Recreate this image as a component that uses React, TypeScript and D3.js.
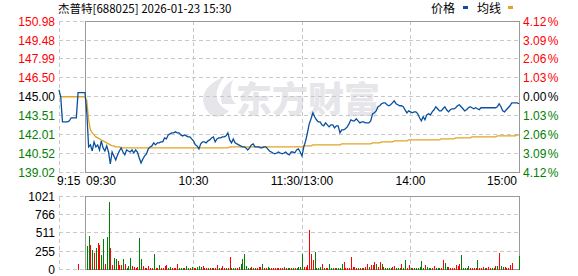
import React from 'react';
import * as d3 from 'd3';

const titleText = '杰普特[688025] 2026-01-23 15:30';
const prevClose = 145.0;
const priceTicks = [150.98, 149.48, 147.99, 146.5, 145.0, 143.51, 142.01, 140.52, 139.02];
const pctTicks = ['4.12', '3.09', '2.06', '1.03', '0.00', '1.03', '2.06', '3.09', '4.12'];
const volTicks = [1021, 766, 511, 255, 0];
const timeLabels = ['9:15', '09:30', '10:30', '11:30/13:00', '14:00', '15:00'];
const timeLabelMinutes = [-15, 0, 60, 120, 180, 240];
const gridMinutes = [60, 120, 180];

// pre-market call auction 9:15 - 9:29
const prePrice = [145.55, 145.0, 143.02, 143.02, 143.02, 143.02, 143.1, 143.34, 143.34, 143.34, 143.34, 145.32, 145.32, 145.32, 145.32];
const preAvg: (number | null)[] = [null, 145.0, 145.0, 145.0, 145.0, 145.0, 145.0, 145.0, 145.0, 145.0, 145.0, 145.0, 145.0, 145.0, 145.0];
const preVolume = [0, 0, 0, 0, 0, 0, 0, 0, 0, 0, 0, 83, 0, 0, 0];
const preUp = [0, 0, 0, 0, 0, 0, 0, 0, 0, 0, 0, 1, 0, 0, 0];

// 09:30 - 15:00, one value per minute (241)
const price = [
  145.32, 143.73, 141.04, 141.2, 140.72, 141.44, 141.04, 141.2, 140.8, 141.52,
  140.96, 140.72, 141.12, 140.64, 139.69, 140.64, 140.33, 140.01, 140.41, 140.72,
  140.96, 140.64, 140.41, 140.8, 140.72, 140.64, 140.8, 140.56, 140.8, 140.64,
  140.17, 139.77, 140.09, 140.33, 140.49, 140.88, 141.04, 141.12, 141.36, 141.2,
  141.36, 141.36, 141.44, 141.44, 141.75, 141.67, 141.99, 142.07, 142.15, 142.15,
  142.23, 142.15, 142.15, 141.99, 141.91, 141.99, 141.91, 141.83, 141.83, 141.67,
  141.52, 141.2, 141.12, 140.88, 141.28, 141.44, 141.44, 141.36, 141.52, 141.59,
  141.75, 141.83, 141.44, 141.67, 141.75, 141.75, 141.83, 141.83, 141.91, 142.15,
  141.59, 141.36, 141.67, 141.36, 141.28, 141.2, 141.12, 141.04, 141.04, 140.96,
  140.8, 140.96, 141.2, 141.28, 141.04, 141.04, 141.04, 140.96, 140.96, 141.04,
  141.04, 140.88, 140.72, 140.64, 140.56, 140.49, 140.56, 140.64, 140.56, 140.49,
  140.56, 140.64, 140.49, 140.41, 140.64, 140.64, 140.56, 140.8, 140.88, 140.64,
  140.33, 141.04, 141.52, 142.15, 142.86, 143.26, 143.73, 143.42, 143.18, 143.02,
  143.02, 142.78, 142.7, 142.94, 142.78, 142.62, 142.78, 142.78, 142.54, 142.7,
  142.7, 142.15, 142.39, 142.39, 142.47, 142.62, 142.86, 143.18, 143.1, 143.1,
  143.26, 143.1, 142.94, 143.02, 143.02, 142.94, 142.94, 142.94, 143.1, 143.65,
  143.73, 143.89, 144.21, 144.29, 144.45, 144.52, 144.52, 144.37, 144.29, 144.37,
  144.52, 144.68, 144.45, 144.37, 144.29, 144.29, 144.21, 143.97, 143.73, 143.89,
  143.81, 143.73, 143.81, 143.81, 143.65, 143.34, 143.1, 143.42, 143.18, 143.57,
  143.65, 143.57, 143.81, 143.97, 144.21, 144.05, 143.89, 143.89, 144.05, 144.21,
  143.97, 143.81, 143.97, 144.05, 144.05, 144.13, 144.29, 144.37, 144.21, 144.05,
  143.89, 143.97, 144.13, 144.21, 144.13, 144.05, 144.13, 144.05, 143.97, 144.13,
  144.13, 144.13, 144.13, 144.13, 144.13, 144.13, 144.13, 144.13, 144.21, 144.45,
  144.21, 143.89, 143.81, 143.97, 144.13, 144.29, 144.52, 144.52, 144.52, 144.52,
  144.45,
];

const avgPrice = [
  144.97, 144.68, 143.18, 142.39, 142.15, 141.99, 141.83, 141.75, 141.67, 141.59,
  141.52, 141.44, 141.36, 141.28, 141.2, 141.12, 141.12, 141.04, 141.04, 141.04,
  140.96, 140.96, 140.96, 140.96, 140.96, 140.96, 140.96, 140.96, 140.96, 140.96,
  140.96, 140.96, 140.96, 140.96, 140.96, 140.96, 140.96, 140.96, 140.96, 140.96,
  140.96, 140.96, 140.96, 140.96, 140.96, 140.96, 140.96, 140.96, 140.96, 140.96,
  140.96, 140.96, 140.96, 140.96, 140.96, 140.96, 140.96, 140.96, 140.96, 140.96,
  140.96, 140.96, 140.96, 140.96, 140.96, 140.96, 140.96, 140.96, 140.96, 140.96,
  140.96, 140.96, 140.96, 140.96, 140.96, 140.96, 140.96, 140.96, 140.96, 140.96,
  141.04, 141.04, 141.04, 141.04, 141.04, 141.04, 141.04, 141.04, 141.04, 141.04,
  141.04, 141.04, 141.04, 141.04, 141.04, 141.04, 141.04, 141.04, 141.04, 141.04,
  141.04, 141.04, 141.04, 141.04, 141.04, 141.04, 141.04, 141.04, 141.04, 141.04,
  141.04, 141.04, 141.04, 141.04, 141.04, 141.04, 141.04, 141.04, 141.04, 141.04,
  141.04, 141.12, 141.12, 141.12, 141.12, 141.12, 141.2, 141.2, 141.2, 141.2,
  141.2, 141.2, 141.2, 141.2, 141.2, 141.2, 141.2, 141.2, 141.2, 141.2,
  141.2, 141.2, 141.28, 141.28, 141.28, 141.28, 141.28, 141.28, 141.28, 141.28,
  141.28, 141.28, 141.28, 141.28, 141.28, 141.28, 141.28, 141.28, 141.28, 141.36,
  141.36, 141.36, 141.36, 141.36, 141.44, 141.44, 141.44, 141.44, 141.44, 141.44,
  141.44, 141.52, 141.52, 141.52, 141.52, 141.52, 141.52, 141.52, 141.52, 141.59,
  141.59, 141.59, 141.59, 141.59, 141.59, 141.59, 141.59, 141.59, 141.59, 141.59,
  141.59, 141.59, 141.59, 141.59, 141.59, 141.59, 141.59, 141.67, 141.67, 141.67,
  141.67, 141.67, 141.67, 141.67, 141.67, 141.75, 141.75, 141.75, 141.75, 141.75,
  141.75, 141.75, 141.75, 141.75, 141.83, 141.83, 141.83, 141.83, 141.83, 141.83,
  141.83, 141.83, 141.83, 141.83, 141.83, 141.83, 141.83, 141.83, 141.91, 141.91,
  141.91, 141.91, 141.91, 141.91, 141.91, 141.91, 141.91, 141.91, 141.91, 141.99,
  141.99,
];

const volume = [
  0, 322, 469, 345, 276, 230, 299, 368, 345, 207,
  428, 83, 451, 938, 299, 69, 161, 147, 115, 69,
  69, 147, 83, 18, 46, 161, 46, 37, 18, 32,
  437, 152, 55, 14, 23, 55, 18, 18, 221, 14,
  18, 64, 14, 18, 46, 69, 23, 28, 18, 18,
  18, 83, 18, 14, 14, 18, 55, 14, 18, 41,
  18, 18, 37, 55, 37, 55, 14, 14, 14, 14,
  14, 14, 14, 69, 14, 14, 55, 14, 14, 14,
  179, 14, 14, 14, 14, 37, 83, 152, 221, 55,
  14, 14, 41, 14, 14, 14, 28, 28, 83, 14,
  14, 37, 23, 14, 14, 14, 14, 14, 18, 14,
  37, 14, 14, 14, 14, 14, 14, 14, 28, 28,
  221, 28, 37, 64, 552, 221, 138, 248, 18, 14,
  28, 83, 14, 14, 14, 83, 14, 14, 14, 23,
  23, 14, 83, 110, 14, 14, 14, 179, 28, 28,
  14, 14, 14, 14, 14, 28, 83, 41, 69, 64,
  110, 83, 41, 110, 83, 41, 14, 14, 14, 14,
  28, 55, 14, 14, 14, 83, 14, 138, 14, 69,
  14, 14, 14, 14, 14, 41, 124, 14, 69, 28,
  14, 14, 14, 55, 14, 14, 14, 14, 138, 97,
  41, 28, 14, 14, 14, 69, 55, 83, 207, 14,
  14, 14, 55, 14, 14, 14, 14, 138, 14, 14,
  28, 14, 14, 28, 14, 14, 14, 55, 55, 235,
  55, 28, 28, 14, 14, 69, 97, 0, 0, 0,
  193,
];

const volumeUp = [
  1, 0, 0, 1, 0, 1, 0, 1, 1, 0,
  0, 1, 0, 0, 1, 1, 0, 0, 1, 1,
  1, 0, 1, 0, 0, 0, 1, 1, 1, 1,
  0, 0, 1, 1, 1, 1, 1, 1, 0, 1,
  1, 0, 1, 1, 1, 1, 0, 0, 1, 1,
  1, 1, 0, 0, 0, 1, 0, 0, 1, 0,
  1, 1, 0, 0, 0, 1, 1, 1, 0, 1,
  1, 0, 1, 1, 0, 1, 1, 1, 0, 1,
  1, 0, 0, 0, 1, 1, 0, 0, 0, 0,
  0, 0, 1, 1, 0, 1, 1, 1, 0, 1,
  1, 0, 0, 1, 1, 1, 1, 1, 1, 1,
  0, 1, 0, 0, 1, 0, 1, 0, 0, 0,
  0, 1, 1, 1, 1, 1, 1, 0, 0, 0,
  0, 1, 0, 1, 1, 0, 0, 0, 1, 0,
  0, 0, 0, 1, 1, 1, 1, 1, 1, 1,
  1, 0, 1, 1, 0, 1, 1, 0, 1, 1,
  1, 0, 1, 1, 0, 1, 0, 0, 0, 0,
  1, 1, 0, 0, 0, 1, 0, 0, 1, 1,
  0, 1, 0, 0, 0, 0, 0, 0, 1, 0,
  0, 0, 1, 1, 0, 0, 0, 1, 1, 0,
  0, 1, 1, 1, 1, 1, 1, 1, 0, 0,
  0, 0, 0, 1, 1, 1, 1, 0, 1, 1,
  1, 0, 1, 1, 1, 0, 0, 1, 0, 1,
  0, 0, 1, 1, 1, 1, 1, 0, 0, 0,
  0,
];

const RED = '#ff0000';
const GREEN = '#008000';
const BLUE = '#0a4f9e';
const ORANGE = '#e0a526';
const GRID = '#c8c8c8';
const FRAME = '#999999';
const FONT = '"Liberation Sans", Arial, sans-serif';
const CJK = '"Noto Sans CJK SC", "Liberation Sans", sans-serif';

export default function App() {
  const W = 578;
  const H = 276;
  const L = 85;
  const R = 519;
  const PL = 59;
  const pTop = 21;
  const pBot = 172.5;
  const vTop = 196.5;
  const vBot = 269.5;

  const x = d3.scaleLinear().domain([0, 240]).range([L, R]);
  const xp = d3.scaleLinear().domain([-15, 0]).range([PL, L]);
  const y = d3.scaleLinear().domain([139.02, 150.98]).range([pBot, pTop]);
  const yv = d3.scaleLinear().domain([0, 1021]).range([vBot, vTop]);

  const xTime = (m: number) => (m < 0 ? xp(m) : x(m));

  const line = d3
    .line<[number, number | null]>()
    .defined((d) => d[1] != null)
    .x((d) => d[0])
    .y((d) => y(d[1] as number));

  const pricePts: [number, number | null][] = [
    ...prePrice.map((p, k) => [xp(k - 15), p] as [number, number | null]),
    ...price.map((p, i) => [x(i), p] as [number, number | null]),
  ];
  const avgPts: [number, number | null][] = [
    ...preAvg.map((p, k) => [xp(k - 15), p] as [number, number | null]),
    ...avgPrice.map((p, i) => [x(i), p] as [number, number | null]),
  ];

  const bars = [
    ...preVolume.map((v, k) => ({ xx: xp(k - 15), v, up: preUp[k] })),
    ...volume.map((v, i) => ({ xx: x(i), v, up: volumeUp[i] })),
  ].filter((b) => b.v > 0);

  const labelColor = (p: number) => (p > prevClose + 1e-6 ? RED : p < prevClose - 1e-6 ? GREEN : '#000');
  const anchors = ['start', 'start', 'middle', 'middle', 'middle', 'end'];
  const labelDx = [-2, 1, 0, 0, 0, -2];

  return (
    <svg
      width={W}
      height={H}
      style={{ position: 'absolute', left: 0, top: 0, background: '#fff' }}
      xmlns="http://www.w3.org/2000/svg"
    >
      {/* watermark */}
      <g fill="#e6e6ea">
        <path d="M212 116 C198 104 200 86 224 77 C213 92 214 104 229 111 C224 116 217 118 212 116 Z" />
        <path d="M222 104 C219 94 224 85 233 80 C229 90 230 98 236 104 Z" />
        <text x={236} y={113} fontSize={36} fontWeight={900} fontFamily={CJK}>
          东方财富
        </text>
      </g>

      {/* price grid */}
      <g stroke={GRID} strokeDasharray="4,3" strokeWidth={1} shapeRendering="crispEdges">
        {priceTicks.map((t, i) => (
          <line key={'pg' + i} x1={PL} x2={R} y1={y(t)} y2={y(t)} />
        ))}
        <line x1={PL} x2={PL} y1={pTop} y2={pBot} />
        {gridMinutes.map((m) => (
          <line key={'vg' + m} x1={x(m)} x2={x(m)} y1={pTop} y2={pBot} />
        ))}
        {volTicks.map((t, i) => (
          <line key={'vvg' + i} x1={PL} x2={R} y1={yv(t)} y2={yv(t)} />
        ))}
        <line x1={PL} x2={PL} y1={vTop} y2={vBot} />
        {gridMinutes.map((m) => (
          <line key={'vvv' + m} x1={x(m)} x2={x(m)} y1={vTop} y2={vBot} />
        ))}
      </g>

      {/* frames */}
      <g fill="none" stroke={FRAME} strokeWidth={1} shapeRendering="crispEdges">
        <rect x={L} y={pTop} width={R - L} height={pBot - pTop} />
        <rect x={L} y={vTop} width={R - L} height={vBot - vTop} />
      </g>

      {/* volume bars */}
      <g shapeRendering="crispEdges">
        {bars.map((b, i) => (
          <rect
            key={'b' + i}
            x={Math.round(b.xx)}
            y={yv(b.v)}
            width={1}
            height={vBot - yv(b.v)}
            fill={b.up ? RED : GREEN}
          />
        ))}
      </g>

      {/* lines */}
      <path d={line(avgPts) || ''} fill="none" stroke={ORANGE} strokeWidth={1.3} />
      <path d={line(pricePts) || ''} fill="none" stroke={BLUE} strokeWidth={1.3} />

      {/* left price labels */}
      <g fontFamily={FONT} fontSize={12} textAnchor="end">
        {priceTicks.map((t, i) => (
          <text key={'pl' + i} x={55} y={y(t) + 4.5} fill={labelColor(t)}>
            {t.toFixed(2)}
          </text>
        ))}
      </g>

      {/* right percent labels */}
      <g fontFamily={FONT} fontSize={12} textAnchor="start">
        {pctTicks.map((t, i) => (
          <text key={'pr' + i} x={523} y={y(priceTicks[i]) + 4.5} fill={labelColor(priceTicks[i])}>
            {t}
            <tspan dx={1.5}>%</tspan>
          </text>
        ))}
      </g>

      {/* volume labels */}
      <g fontFamily={FONT} fontSize={12} textAnchor="end" fill="#000">
        {volTicks.map((t, i) => (
          <text key={'vl' + i} x={55} y={yv(t) + 4.5}>
            {t}
          </text>
        ))}
      </g>

      {/* time labels */}
      <g fontFamily={FONT} fontSize={12} fill="#000">
        {timeLabels.map((t, i) => (
          <text
            key={'tl' + i}
            x={xTime(timeLabelMinutes[i]) + labelDx[i]}
            y={185}
            textAnchor={anchors[i] as any}
          >
            {t}
          </text>
        ))}
      </g>

      {/* title and legend */}
      <text x={58} y={13} fontFamily={CJK} fontSize={11.5} fill="#000">
        {titleText}
      </text>
      <text x={431} y={13} fontFamily={CJK} fontSize={12} fill="#000">
        价格
      </text>
      <rect x={463} y={6} width={5} height={3} fill={BLUE} />
      <text x={477} y={13} fontFamily={CJK} fontSize={12} fill="#000">
        均线
      </text>
      <rect x={508} y={6} width={5} height={3} fill={ORANGE} />
    </svg>
  );
}
